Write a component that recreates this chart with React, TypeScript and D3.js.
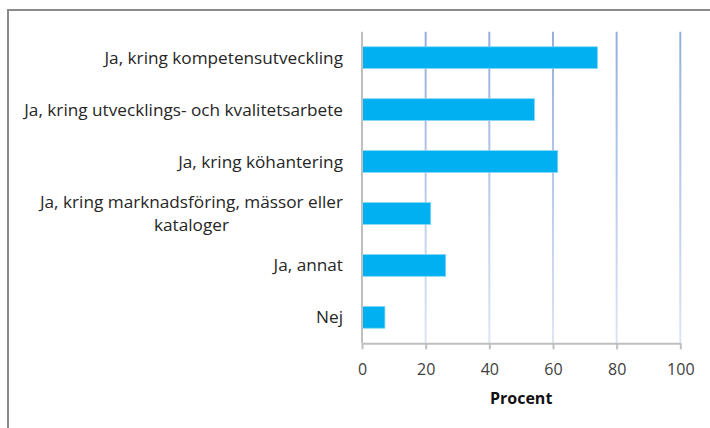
import * as d3 from "d3";
import { useEffect, useRef } from "react";

const categories = [
  "Ja, kring kompetensutveckling",
  "Ja, kring utvecklings- och kvalitetsarbete",
  "Ja, kring köhantering",
  "Ja, kring marknadsföring, mässor eller kataloger",
  "Ja, annat",
  "Nej",
];
const labelLines: string[][] = [
  ["Ja, kring kompetensutveckling"],
  ["Ja, kring utvecklings- och kvalitetsarbete"],
  ["Ja, kring köhantering"],
  ["Ja, kring marknadsföring, mässor eller", "kataloger"],
  ["Ja, annat"],
  ["Nej"],
];
const values = [74.0, 54.2, 61.5, 21.6, 26.3, 7.2];
const xTicks = [0, 20, 40, 60, 80, 100];
const xTitle = "Procent";

const FONT = "'Open Sans', Lato, sans-serif";

export default function App(): JSX.Element {
  const svgRef = useRef<SVGSVGElement>(null);

  useEffect(() => {
    if (!svgRef.current) return;
    const width = 710;
    const height = 428;
    const margin = { top: 31.7, right: 29.7, bottom: 84.7, left: 362 };

    const svg = d3.select(svgRef.current);
    svg.selectAll("*").remove();
    svg.attr("width", width).attr("height", height);

    const x = d3
      .scaleLinear()
      .domain([0, 100])
      .range([margin.left, width - margin.right]);
    const y = d3
      .scaleBand()
      .domain(categories)
      .range([margin.top, height - margin.bottom])
      .paddingInner(0.58)
      .paddingOuter(0.29);
    const y0 = margin.top;
    const y1 = height - margin.bottom;

    // outer frame
    svg
      .append("rect")
      .attr("x", 8)
      .attr("y", 10)
      .attr("width", 720)
      .attr("height", 440)
      .attr("fill", "white")
      .attr("stroke", "#8a8a8a")
      .attr("stroke-width", 2);

    const defs = svg.append("defs");
    const grad = defs
      .append("linearGradient")
      .attr("id", "gridGrad")
      .attr("gradientUnits", "userSpaceOnUse")
      .attr("x1", 0)
      .attr("y1", y0)
      .attr("x2", 0)
      .attr("y2", y1);
    grad.append("stop").attr("offset", "0%").attr("stop-color", "#95AEDF");
    grad.append("stop").attr("offset", "100%").attr("stop-color", "#DDE5F5");

    svg
      .append("g")
      .selectAll("line")
      .data(xTicks.filter((t) => t > 0))
      .join("line")
      .attr("x1", (d) => x(d))
      .attr("x2", (d) => x(d))
      .attr("y1", y0)
      .attr("y2", y1)
      .attr("stroke", "url(#gridGrad)")
      .attr("stroke-width", 2);

    // bars
    svg
      .append("g")
      .selectAll("rect")
      .data(values)
      .join("rect")
      .attr("x", x(0))
      .attr("y", (_, i) => y(categories[i])!)
      .attr("width", (d) => x(d) - x(0))
      .attr("height", y.bandwidth())
      .attr("fill", "#00B0F0")
      .attr("stroke", "#86D6F5")
      .attr("stroke-width", 0.8);

    // left axis line
    svg
      .append("line")
      .attr("x1", x(0))
      .attr("x2", x(0))
      .attr("y1", y0)
      .attr("y2", y1)
      .attr("stroke", "#BFBFBF")
      .attr("stroke-width", 2);

    // bottom axis
    const xAxis = svg
      .append("g")
      .attr("transform", `translate(0,${y1})`)
      .call(d3.axisBottom(x).tickValues(xTicks).tickSize(6).tickSizeOuter(0).tickPadding(14));
    xAxis.select(".domain").attr("stroke", "#BFBFBF").attr("stroke-width", 2);
    xAxis.selectAll(".tick line").attr("stroke", "#BFBFBF").attr("stroke-width", 2);
    xAxis
      .selectAll(".tick text")
      .style("font-family", FONT)
      .style("font-size", "16px")
      .attr("fill", "#404040");

    svg
      .append("text")
      .attr("x", (x(0) + x(100)) / 2)
      .attr("y", 404)
      .attr("text-anchor", "middle")
      .style("font-family", FONT)
      .style("font-size", "16px")
      .style("font-weight", "bold")
      .attr("fill", "#111")
      .text(xTitle);

    // category labels
    const labelRight = 343;
    categories.forEach((c, i) => {
      const lines = labelLines[i];
      const cy = y(c)! + y.bandwidth() / 2;
      const lh = 23;
      const g = svg.append("g");
      const texts = lines.map((ln, j) =>
        g
          .append("text")
          .attr("y", cy + (j - (lines.length - 1) / 2) * lh)
          .attr("dy", "0.35em")
          .style("font-family", FONT)
          .style("font-size", "17.2px")
          .attr("fill", "#262626")
          .text(ln)
      );
      const widths = texts.map((t) => (t.node() as SVGTextElement).getComputedTextLength());
      const maxW = Math.max(...widths);
      const center = labelRight - maxW / 2;
      texts.forEach((t) => t.attr("x", center).attr("text-anchor", "middle"));
    });
  }, []);

  return (
    <div style={{ position: "absolute", left: 0, top: 0 }}>
      <svg ref={svgRef} style={{ display: "block" }} />
    </div>
  );
}
